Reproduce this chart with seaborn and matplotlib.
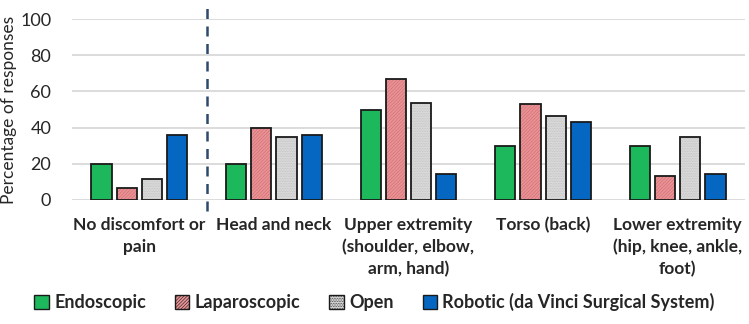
import matplotlib
matplotlib.use("Agg")
import matplotlib.pyplot as plt
import seaborn as sns
import pandas as pd
from matplotlib.patches import Patch

categories = ["No discomfort or\npain", "Head and neck",
              "Upper extremity\n(shoulder, elbow,\narm, hand)", "Torso (back)",
              "Lower extremity\n(hip, knee, ankle,\nfoot)"]
methods = ["Endoscopic", "Laparoscopic", "Open", "Robotic (da Vinci Surgical System)"]
endoscopic = [20, 20, 50, 30, 30]
laparoscopic = [6.7, 40, 66.7, 53.3, 13.3]
open_ = [11.5, 34.6, 53.8, 46.2, 34.6]
robotic = [35.7, 35.7, 14.3, 42.9, 14.3]
yticks = [0, 20, 40, 60, 80, 100]

colors = ["#1DB75C", "#E99396", "#DADADA", "#0567C2"]
hatches = [None, "//////////", "..........", None]
hatch_colors = [None, "#CF6A6E", "#BDBDBD", None]

rows = []
for m, vals in zip(methods, [endoscopic, laparoscopic, open_, robotic]):
    for c, v in zip(categories, vals):
        rows.append({"category": c, "method": m, "value": v})
df = pd.DataFrame(rows)

sns.set_style("white")
plt.rcParams["font.family"] = ["Lato", "DejaVu Sans"]
plt.rcParams["hatch.linewidth"] = 0.4

fig = plt.figure(figsize=(7.49, 3.24), dpi=100)
ax = fig.add_axes([72 / 749, 1 - 200 / 324, (745 - 72) / 749, 181 / 324])

sns.barplot(data=df, x="category", y="value", hue="method", order=categories,
            hue_order=methods, palette=colors, edgecolor="#1a1a1a", linewidth=1.3,
            width=0.75, gap=0.2, ax=ax, legend=False, saturation=1)

for cont, h, hc in zip(ax.containers, hatches, hatch_colors):
    if h:
        for p in cont:
            p.set_hatch(h)
            p._hatch_color = matplotlib.colors.to_rgba(hc)

ax.set_ylim(0, 100)
ax.set_yticks(yticks)
ax.set_yticklabels([str(t) for t in yticks], fontsize=13)
ax.yaxis.grid(True, color="#D9D9D9", linewidth=1.3)
ax.set_axisbelow(True)
for s in ax.spines.values():
    s.set_visible(False)
ax.tick_params(axis="both", length=0)
ax.tick_params(axis="y", pad=15)
ax.set_xlabel("")
ax.set_ylabel("Percentage of responses", fontsize=12.5)
ax.yaxis.set_label_coords(-0.081, 0.5)
ax.set_xticks(range(len(categories)))
ax.set_xticklabels(categories, fontsize=12.5, fontweight="bold", linespacing=1.45)
ax.tick_params(axis="x", pad=12)
ax.set_xlim(-0.5, len(categories) - 0.5)

ax.axvline(0.5, ymin=-0.06, ymax=1.08, color="#2E4A6B", linestyle=(0, (4, 3)),
           linewidth=1.8, clip_on=False)

handles = [Patch(facecolor=c, edgecolor="#1a1a1a", hatch=h, label=m)
           for c, h, m in zip(colors, hatches, methods)]
leg = fig.legend(handles=handles, loc="center", bbox_to_anchor=(0.5, 1 - 302 / 324),
                 ncol=4, frameon=False, prop={"size": 13, "weight": "bold"},
                 handlelength=0.8, handleheight=0.8, handletextpad=0.3,
                 columnspacing=1.6)

fig.savefig("out.png", dpi=100)
